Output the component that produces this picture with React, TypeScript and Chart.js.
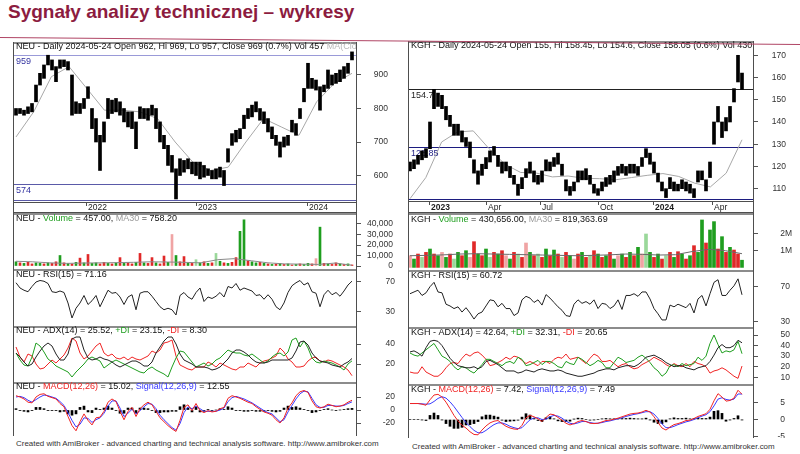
import React, { useEffect, useRef } from "react";
import { Chart, registerables } from "chart.js";

Chart.register(...registerables);

/* ============================ NEU (left block) ============================ */
// one slot per ~4 px of the original, from mid-2021 to 2024-05-24
const neuLow = [
  780, 785, 780, 785, 790, 820, 870, 890, 930, 915,
  880, 920, 925, 915, 780, 785, 785, 800, 830, 740,
  700, 615, 700, 770, 785, 790, 780, 760, 745, 740,
  680, 770, 770, 765, 780, 740, 700, 680, 630, 610,
  530, 600, 610, 620, 605, 600, 590, 595, 600, 590,
  590, 595, 570, 640, 690, 700, 710, 740, 770, 775,
  790, 765, 755, 730, 710, 690, 655, 685, 690, 730,
  720, 770, 820, 860, 860, 855, 795, 850, 860, 870,
  875, 880, 890, 905, 945,
];
const neuHigh = [
  800, 800, 795, 805, 815, 870, 905, 930, 959, 945,
  925, 945, 945, 940, 900, 820, 815, 830, 865, 800,
  770, 720, 760, 830, 825, 830, 820, 800, 790, 790,
  760, 805, 800, 800, 810, 800, 760, 720, 690, 660,
  620, 650, 645, 650, 640, 640, 640, 630, 620, 615,
  620, 625, 615, 680, 725, 735, 740, 780, 800, 810,
  820, 800, 790, 770, 745, 720, 700, 715, 720, 765,
  755, 800, 860, 935, 890, 885, 865, 870, 915, 900,
  905, 915, 925, 935, 969,
];
const neuMA = [715, 790, 895, 925, 860, 795, 795, 790, 770, 700, 640, 615, 625, 700, 770, 745, 720, 820, 875, 905];
const neuLevels = [959, 574, 526];
const neuPriceTicks = [600, 700, 800, 900];
const neuDatePos = [17.5, 45, 72.75];
const neuDateLabels = ["2022", "2023", "2024"];

const neuVolume = [
  4000, 3000, 2500, 3500, 2000, 3000, 2500, 2000, 3000, 2500,
  4000, 10000, 3000, 2500, 2000, 3500, 7500, 3000, 11000, 2500,
  3000, 2000, 3500, 2500, 2000, 3000, 8000, 2500, 3000, 2000,
  3500, 12000, 3000, 2500, 8000, 3000, 2000, 9500, 3500, 30000,
  10000, 4000, 9000, 3000, 2500, 6000, 3000, 4000, 2500, 3000,
  12000, 4500, 3000, 2500, 3500, 8000, 33000, 44000, 5000, 4000,
  3000, 3500, 2500, 2000, 1500, 2000, 2500, 1500, 2000, 1000,
  1500, 2000, 1500, 2500, 2000, 7000, 37000, 2500, 2000, 1500,
  3000, 2000, 1500, 2000, 1000,
];
const neuVolColors = "grgrrggrgr" + "rgrgrgrgrg" + "grrgrgrgrr" + "grgrrgrrgR" + "grrgrGgrgr" + "Ggrgrrggrg" + "grgrgrgrgr" + "grggrRgrgr" + "rgrgr";
const neuVolMA = [4500, 4000, 3000, 2500, 2800, 3000, 3200, 3500, 4000, 3800, 3500, 3000, 6000, 7000, 5000, 3000, 2000, 1800, 1500, 2800, 758];
const neuVolTicks = [0, 10000, 20000, 30000, 40000];

const neuRSI = [
  69, 62, 59, 57, 64, 70, 72, 71, 68, 57,
  56, 58, 56, 42, 22, 35, 42, 52, 40, 45,
  52, 37, 48, 59, 55, 56, 50, 40, 50, 53,
  33, 55, 57, 57, 51, 44, 37, 33, 35, 33,
  26, 52, 56, 50, 47, 56, 62, 44, 50, 48,
  51, 56, 50, 64, 62, 68, 59, 62, 60, 58,
  52, 53, 47, 53, 47, 37, 33, 42, 56, 65,
  69, 72, 66, 69, 57, 55, 37, 53, 59, 53,
  56, 51, 58, 66, 71.16,
];
const neuRsiTicks = [30, 70];

const neuADX = [
  31, 27, 22, 18, 20, 27, 33, 38, 41, 38,
  30, 24, 24, 30, 45, 47, 47, 34, 26, 24,
  25, 27, 25, 24, 22, 19, 17, 19, 21, 23,
  23, 21, 18, 18, 22, 31, 37, 43, 47, 47,
  40, 30, 24, 22, 20, 17, 17, 17, 16, 14,
  15, 17, 21, 25, 31, 34, 34, 32, 29, 25,
  22, 21, 21, 22, 24, 24, 24, 24, 24, 26,
  33, 42, 43, 39, 31, 26, 23, 22, 21, 19,
  18, 17, 20, 22, 25.52,
];
const neuPlusDI = [
  31, 24, 19, 18, 27, 41, 38, 32, 25, 22,
  18, 16, 14, 12, 7, 12, 16, 20, 25, 27,
  25, 23, 16, 19, 22, 24, 22, 20, 18, 16,
  14, 12, 11, 15, 17, 14, 12, 10, 7, 17,
  26, 33, 32, 27, 22, 17, 19, 21, 18, 20,
  24, 26, 30, 34, 32, 31, 31, 29, 28, 30,
  27, 24, 21, 23, 27, 30, 31, 28, 32, 44,
  46, 37, 43, 36, 26, 22, 21, 23, 22, 21,
  19, 17, 14, 20, 23.15,
];
const neuMinusDI = [
  37, 27, 22, 30, 28, 20, 15, 16, 20, 24,
  21, 25, 29, 36, 46, 43, 31, 25, 28, 33,
  38, 41, 31, 28, 30, 26, 25, 27, 24, 27,
  25, 24, 26, 28, 33, 31, 34, 41, 42, 44,
  28, 19, 17, 15, 14, 17, 17, 17, 22, 20,
  17, 21, 19, 17, 15, 14, 17, 17, 21, 19,
  17, 21, 23, 24, 26, 28, 36, 32, 25, 22,
  17, 17, 18, 23, 26, 27, 23, 22, 24, 23,
  21, 19, 17, 14, 8.3,
];
const neuAdxTicks = [20, 40];

const neuMACD = [
  22, 20, 17, 12, 11, 20, 24, 25, 21, 19,
  17, 10, 5, -10, -24, -32, -18, -6, -16, -23,
  -12, -11, -2, 12, 17, 13, -2, -15, -2, 4,
  -10, 2, 8, 12, 8, -2, -12, -18, -24, -29,
  -33, -16, 4, 8, -1, 10, -1, -4, -1, -3,
  -2, 2, 4, 18, 22, 20, 18, 15, 12, 10,
  5, 1, -3, -5, -8, -15, -20, -12, 3, 11,
  22, 28, 30, 27, 14, 5, 3, 5, 9, 7,
  5, 6, 8, 12, 15.02,
];
const neuSignal = [
  20, 21, 19, 15, 12, 16, 20, 23, 22, 20,
  18, 13, 7, -4, -16, -26, -22, -12, -13, -19,
  -15, -12, -5, 6, 14, 14, 3, -10, -5, 1,
  -6, -1, 5, 10, 9, 2, -8, -15, -21, -27,
  -31, -21, -4, 5, 2, 6, 2, -2, -2, -2,
  -2, 0, 3, 13, 19, 21, 19, 17, 14, 11,
  7, 3, -1, -4, -6, -12, -18, -15, -3, 7,
  17, 25, 29, 28, 18, 8, 4, 4, 7, 7,
  6, 6, 7, 10, 12.55,
];
const neuHist = [
  2, -1, -2, -3, -1, 4, 4, 2, -1, -1,
  -1, -3, -2, -6, -8, -6, 4, 6, -3, -4,
  3, 1, 3, 6, 3, -1, -5, -5, 3, 3,
  -4, 3, 3, 2, -1, -4, -4, -3, -3, -2,
  -2, 5, 8, 3, -3, 4, -3, -2, 1, -1,
  0, 2, 1, 5, 3, -1, -1, -2, -2, -1,
  -2, -2, -2, -1, -2, -3, -2, 3, 6, 4,
  5, 3, 1, -1, -4, -3, -1, 1, 2, 0,
  -1, 0, 1, 2, 2.5,
];
const neuMacdTicks = [-20, 0, 20];

/* ============================ KGH (right block) ============================ */
const kghLow = [
  118, 119, 121, 123, 124, 128, 146, 147, 146, 141,
  138, 134, 134, 131, 129, 124, 117, 112, 116, 119,
  122, 125, 120, 117, 118, 115, 112, 107, 110, 115,
  117, 113, 112, 113, 118, 118, 120, 121, 116, 109,
  107, 109, 113, 114, 114, 112, 108, 107, 109, 111,
  112, 113, 116, 117, 116, 117, 117, 116, 120, 124,
  121, 117, 113, 109, 106, 110, 109, 109, 110, 109,
  108, 106, 113, 114, 109, 115, 130, 140, 133, 136,
  140, 149, 158, 154.6,
];
const kghHigh = [
  122, 123, 125, 127, 128, 140, 154.7, 153, 152, 147,
  143, 139, 139, 136, 133, 131, 123, 118, 121, 124,
  127, 129, 125, 122, 122, 120, 116, 112, 115, 119,
  122, 118, 116, 118, 123, 122, 124, 126, 121, 114,
  111, 113, 118, 118, 119, 116, 112, 110, 113, 115,
  116, 118, 120, 121, 120, 121, 121, 120, 124, 128,
  126, 122, 117, 113, 110, 115, 113, 112, 114, 113,
  112, 110, 118, 118, 114, 122, 140, 147, 140, 142,
  147, 155, 170, 162,
];
const kghMA = [105.5, 115, 131, 135.5, 136, 128, 121, 117.3, 117, 115.3, 115.7, 114.7, 114.5, 114, 115, 116, 116.8, 115.5, 112.5, 110.8, 117, 132];
const kghLevels = [154.7, 128.85, 105.2];
const kghPriceTicks = [110, 120, 130, 140, 150, 160, 170];
const kghDatePos = [4.75, 19, 32.5, 47, 60.75, 75.5];
const kghDateLabels = ["2023", "Apr", "Jul", "Oct", "2024", "Apr"];

const kghVolumeM = [
  0.7, 0.5, 0.8, 0.6, 0.9, 1.1, 0.8, 0.7, 0.9, 0.6,
  0.8, 0.5, 0.9, 0.7, 1.0, 0.6, 1.54, 0.8, 0.7, 1.1,
  0.6, 0.9, 0.8, 1.0, 0.7, 0.5, 0.9, 0.8, 0.6, 1.46,
  0.9, 0.7, 0.8, 0.6, 1.1, 0.7, 1.04, 0.8, 0.6, 0.9,
  0.7, 0.5, 0.8, 0.9, 0.6, 0.7, 1.0, 0.8, 0.6, 0.7,
  0.9, 0.5, 0.7, 0.8, 0.6, 0.9, 0.7, 1.2, 0.8, 2.0,
  0.9, 0.6, 0.8, 0.5, 0.7, 0.9, 0.6, 0.94, 0.8, 0.5,
  0.7, 1.3, 0.9, 2.84, 1.46, 2.24, 2.74, 1.1, 1.84, 0.9,
  1.2, 1.04, 0.8, 0.43,
];
const kghVolColors = "RgrGrgrgRg" + "rGgrgRrgrg" + "GrgrRgrGrR" + "grGrgrgrGr" + "gRrgrGrgrg" + "rgRgrgrgRG" + "grgrGrgrgr" + "grggrggrgr" + "grrg";
const kghVolMA = [0.7, 0.72, 0.75, 0.8, 0.82, 0.8, 0.78, 0.76, 0.74, 0.72, 0.7, 0.72, 0.75, 0.8, 0.78, 0.74, 0.76, 0.95, 1.08, 1.0, 0.82];
const kghVolTicks = [1, 2];

const kghRSI = [
  62, 64, 66, 60, 63, 70, 75, 64, 63, 50,
  48, 45, 47, 41, 46, 40, 33, 39, 41, 48,
  55, 54, 47, 51, 45, 45, 37, 40, 55, 59,
  57, 52, 55, 49, 61, 57, 52, 47, 43, 37,
  36, 50, 55, 51, 53, 50, 55, 45, 51, 50,
  45, 48, 55, 44, 60, 60, 62, 59, 64, 64,
  56, 45, 39, 32, 32, 49, 47, 50, 48, 46,
  51, 40, 56, 60, 48, 62, 75, 78, 60, 60,
  66, 71, 79, 60.72,
];
const kghRsiTicks = [30, 70];

const kghADX = [
  34, 35, 33, 30, 38, 44, 45, 44, 40, 34,
  28, 24, 21, 20, 19, 19, 20, 18, 20, 25,
  26, 24, 22, 19, 16, 16, 16, 14, 15, 17,
  16, 15, 17, 18, 17, 16, 16, 17, 16, 14,
  13, 12, 11, 11, 12, 13, 14, 16, 17, 18,
  18, 17, 19, 20, 21, 21, 20, 22, 25, 29,
  30, 31, 29, 27, 24, 22, 20, 21, 21, 19,
  18, 17, 19, 20, 21, 25, 31, 38, 41, 38,
  38, 40, 45, 42.64,
];
const kghPlusDI = [
  33, 31, 30, 33, 36, 39, 42, 36, 30, 28,
  25, 20, 17, 20, 19, 16, 14, 18, 22, 27,
  27, 25, 23, 21, 24, 25, 23, 29, 27, 21,
  22, 24, 26, 22, 25, 25, 23, 20, 19, 25,
  23, 22, 29, 27, 24, 21, 23, 26, 24, 19,
  19, 24, 29, 27, 24, 25, 26, 29, 31, 28,
  24, 19, 16, 11, 14, 21, 22, 20, 23, 21,
  22, 23, 29, 26, 30, 42, 50, 41, 33, 35,
  34, 36, 44, 32.31,
];
const kghMinusDI = [
  15, 14, 14, 20, 15, 13, 11, 11, 14, 19,
  23, 24, 23, 28, 32, 30, 33, 34, 31, 27,
  21, 22, 24, 26, 29, 27, 30, 29, 26, 23,
  25, 23, 21, 25, 25, 23, 27, 29, 28, 32,
  27, 28, 29, 26, 23, 28, 32, 30, 25, 25,
  26, 23, 20, 22, 23, 20, 18, 19, 22, 24,
  26, 29, 27, 25, 22, 20, 23, 21, 20, 23,
  20, 25, 23, 22, 20, 14, 16, 17, 19, 17,
  14, 11, 9, 20.65,
];
const kghAdxTicks = [10, 20, 30, 40, 50];

const kghMACD = [
  4.7, 4.7, 4.7, 4.5, 4.2, 5.8, 7.2, 7.4, 6.6, 5.1,
  3.2, 1.2, -0.4, -1.7, -2.5, -3.6, -4.4, -4.5, -3.1, -1.9,
  -1.0, -0.5, -0.3, -1.2, -2.0, -2.5, -2.8, -2.9, -1.7, 0.5,
  1.2, 0.8, 0.2, -0.6, 0.6, 1.6, 1.4, 0.6, -0.2, -1.1,
  -1.6, -1.2, -0.6, -0.3, -0.6, -1.1, -1.2, -1.1, -0.7, -0.3,
  -0.2, 0.1, 0.4, 0.8, 1.2, 1.6, 1.8, 1.9, 2.2, 2.7,
  2.2, 0.8, -0.9, -2.5, -3.1, -2.2, -1.5, -1.2, -0.8, -0.3,
  -0.2, 0.3, 0.9, 1.3, 1.7, 3.0, 5.5, 7.6, 6.6, 5.4,
  5.6, 6.3, 8.6, 7.42,
];
const kghSignal = [
  4.7, 4.7, 4.7, 4.6, 4.5, 4.6, 5.3, 6.2, 6.7, 6.3,
  5.2, 3.8, 2.2, 0.6, -0.9, -2.1, -3.2, -3.9, -3.9, -3.2,
  -2.3, -1.5, -1.0, -1.0, -1.4, -2.0, -2.4, -2.7, -2.4, -1.2,
  -0.1, 0.5, 0.5, 0.0, 0.1, 0.8, 1.2, 1.0, 0.4, -0.5,
  -1.1, -1.3, -1.0, -0.6, -0.6, -0.9, -1.1, -1.1, -0.9, -0.6,
  -0.4, -0.1, 0.2, 0.5, 0.9, 1.2, 1.5, 1.7, 2.0, 2.3,
  2.3, 1.6, 0.3, -1.3, -2.4, -2.4, -2.0, -1.5, -1.1, -0.7,
  -0.4, 0.0, 0.5, 1.0, 1.4, 2.3, 4.0, 6.0, 6.4, 5.9,
  5.7, 6.0, 7.5, 7.49,
];
const kghHist = [
  0, 0, 0, -0.1, -0.3, 1.2, 1.9, 1.2, -0.1, -1.2,
  -2.0, -2.6, -2.6, -2.3, -1.6, -1.5, -1.2, -0.6, 0.8, 1.3,
  1.3, 1.0, 0.7, -0.2, -0.6, -0.5, -0.4, -0.2, 0.7, 1.7,
  1.3, 0.3, -0.3, -0.6, 0.5, 0.8, 0.2, -0.4, -0.6, -0.6,
  -0.5, 0.1, 0.4, 0.3, 0.0, -0.2, -0.1, 0.0, 0.2, 0.3,
  0.2, 0.2, 0.2, 0.3, 0.3, 0.4, 0.3, 0.2, 0.2, 0.4,
  -0.1, -0.8, -1.2, -1.2, -0.7, 0.2, 0.5, 0.3, 0.3, 0.4,
  0.2, 0.3, 0.4, 0.3, 0.3, 0.7, 2.4, 2.6, 1.8, -0.5,
  -0.1, 0.3, 1.1, -0.1,
];
const kghMacdTicks = [-5, 0, 5];

/* ============================ rendering ============================ */
const FONT = '"Liberation Sans", Arial, sans-serif';
const INK = "#111111";
const C_GREEN = "#1f9e1f";
const C_RED = "#f02424";
const C_BLUE = "#3a3aff";
const C_GRAY = "#a8a8a8";
const VOL_COLORS: Record<string, string> = { r: "#e02828", g: "#1f9e1f", R: "#f0a4a4", G: "#9ad89a" };

type Seg = [string, string];
interface Level { value: number; color: string; labelColor: string }
interface PaneSpec {
  left: number; top: number; width: number; height: number;
  axisW: number; padBottom: number;
  xMin: number; xMax: number; yMin: number; yMax: number;
  yTicks: number[]; fmt: (v: number) => string;
  datasets: () => any[];
  header: Seg[]; headerDy: number;
  levels?: Level[];
  dates?: { pos: number[]; labels: string[] };
}

function rangeXY(lo: number[], hi: number[]) {
  return lo.map((l, i) => ({ x: i, y: [l, hi[i]] }));
}
function spreadXY(values: number[], n: number) {
  const step = values.length > 1 ? (n - 1) / (values.length - 1) : 0;
  return values.map((v, i) => ({ x: i * step, y: v }));
}
function lineDs(data: any[], color: string) {
  return { type: "line", data, borderColor: color, borderWidth: 1, pointRadius: 0, fill: false, tension: 0 };
}
function barDs(data: any[], colors: string | string[], thick: number) {
  return { type: "bar", data, backgroundColor: colors, borderWidth: 0, barThickness: thick, grouped: false };
}

function decoPlugin(s: PaneSpec) {
  return {
    id: "deco",
    beforeDatasetsDraw(chart: any) {
      if (!s.levels) return;
      const { ctx, chartArea: a } = chart;
      const y = chart.scales.y;
      ctx.save();
      ctx.beginPath();
      ctx.rect(a.left, a.top, a.right - a.left, a.bottom - a.top);
      ctx.clip();
      ctx.font = `9px ${FONT}`;
      ctx.textBaseline = "top";
      ctx.textAlign = "left";
      for (const lv of s.levels) {
        const py = Math.round(y.getPixelForValue(lv.value)) + 0.5;
        ctx.strokeStyle = lv.color;
        ctx.lineWidth = 1;
        ctx.beginPath();
        ctx.moveTo(a.left, py);
        ctx.lineTo(a.right, py);
        ctx.stroke();
        ctx.fillStyle = lv.labelColor;
        ctx.fillText(String(lv.value), a.left + 3, py + 1.5);
      }
      ctx.restore();
    },
    afterDraw(chart: any) {
      const { ctx, chartArea: a, height } = chart;
      ctx.save();
      ctx.fillStyle = "#8c8c8c";
      ctx.fillRect(a.left, a.top, a.right - a.left, 2);
      ctx.fillStyle = "#4e4e4e";
      ctx.fillRect(a.left, a.top, 1, height - a.top);
      ctx.fillRect(a.right - 1, a.top, 1, height - a.top);
      if (s.dates) {
        const xs = chart.scales.x;
        ctx.fillRect(a.left, a.bottom, a.right - a.left, 1);
        ctx.fillRect(a.left, height - 1, a.right - a.left, 1);
        ctx.textBaseline = "middle";
        ctx.textAlign = "left";
        s.dates.pos.forEach((p, i) => {
          const px = Math.round(xs.getPixelForValue(p));
          ctx.fillStyle = "#4e4e4e";
          ctx.fillRect(px, a.bottom, 1, 4);
          const lab = s.dates!.labels[i];
          const bold = /^\d{4}$/.test(lab) && s.dates!.labels.some((l) => !/^\d{4}$/.test(l));
          ctx.font = `${bold ? "bold " : ""}8.5px ${FONT}`;
          ctx.fillStyle = "#1a1a1a";
          ctx.fillText(lab, px + 2, (a.bottom + height) / 2 + 0.5);
        });
      }
      // header
      ctx.beginPath();
      ctx.rect(a.left + 1, a.top, a.right - a.left - 2, a.bottom - a.top);
      ctx.clip();
      ctx.font = `9px ${FONT}`;
      ctx.textBaseline = "middle";
      ctx.textAlign = "left";
      let x = a.left + 3;
      for (const [t, c] of s.header) {
        ctx.fillStyle = c;
        ctx.fillText(t, x, a.top + s.headerDy);
        x += ctx.measureText(t).width;
      }
      ctx.restore();
    },
  };
}

function makeConfig(s: PaneSpec) {
  return {
    type: "bar",
    data: { datasets: s.datasets() },
    options: {
      animation: false,
      responsive: false,
      maintainAspectRatio: false,
      events: [],
      layout: { padding: { left: 0, right: 0, top: 0, bottom: s.padBottom } },
      plugins: { legend: { display: false }, tooltip: { enabled: false }, title: { display: false } },
      scales: {
        x: { type: "linear", min: s.xMin, max: s.xMax, display: false, offset: false },
        y: {
          position: "right",
          min: s.yMin,
          max: s.yMax,
          afterBuildTicks: (sc: any) => {
            sc.ticks = s.yTicks.map((v) => ({ value: v }));
          },
          afterFit: (sc: any) => {
            sc.width = s.axisW;
            sc.paddingTop = 0;
            sc.paddingBottom = 0;
          },
          grid: { drawOnChartArea: false, drawTicks: true, tickLength: 4, color: "#555", tickColor: "#555" },
          border: { display: false },
          ticks: {
            autoSkip: false,
            crossAlign: "far",
            padding: 2,
            color: "#333",
            font: { family: FONT, size: 8.5 },
            callback: (v: any) => s.fmt(Number(v)),
          },
        },
      },
    },
    plugins: [decoPlugin(s)],
  };
}

function Pane({ spec }: { spec: PaneSpec }) {
  const ref = useRef<HTMLCanvasElement | null>(null);
  useEffect(() => {
    if (!ref.current) return;
    const chart = new Chart(ref.current, makeConfig(spec) as any);
    return () => chart.destroy();
  }, [spec]);
  return (
    <canvas
      ref={ref}
      width={spec.width}
      height={spec.height}
      style={{ position: "absolute", left: spec.left, top: spec.top, width: spec.width, height: spec.height }}
    />
  );
}

const plain = (v: number) => String(v);

function buildSpecs(): PaneSpec[] {
  const NL = neuLow.length;
  const NK = kghLow.length;
  const lx = { xMin: -0.75, xMax: 85.25 };
  const rx = { xMin: -0.5, xMax: 86 };
  const L0 = 13, LP = 357;
  const R0 = 408, RP = 754;
  const lp = (top: number, height: number, labelRight: number) => ({ left: L0, top, height, width: labelRight - L0, axisW: labelRight - LP });
  const rp = (top: number, height: number, labelRight: number) => ({ left: R0, top, height, width: labelRight - R0, axisW: labelRight - RP });

  return [
    // ---------------- NEU ----------------
    {
      ...lp(42, 171, 388), ...lx, padBottom: 11, yMin: 520.9, yMax: 998.5, yTicks: neuPriceTicks, fmt: plain,
      datasets: () => [barDs(rangeXY(neuLow, neuHigh), "#000", 3), lineDs(spreadXY(neuMA, NL), C_GRAY)],
      header: [["NEU - Daily 2024-05-24 Open 962, Hi 969, Lo 957, Close 969 (0.7%) Vol 457 ", INK], ["MA(Close", "#b8b8b8"]],
      headerDy: 5,
      levels: [
        { value: neuLevels[0], color: "#9a9ad8", labelColor: "#3333a0" },
        { value: neuLevels[1], color: "#5a5aa8", labelColor: "#3333a0" },
        { value: neuLevels[2], color: "#5a5aa8", labelColor: "#3333a0" },
      ],
      dates: { pos: neuDatePos, labels: neuDateLabels },
    },
    {
      ...lp(213, 56, 393), ...lx, padBottom: 0, yMin: -2857, yMax: 50476, yTicks: neuVolTicks,
      fmt: (v) => v.toLocaleString("en-US"),
      datasets: () => [
        lineDs(spreadXY(neuVolMA, NL), "#8a8a8a"),
        barDs(spreadXY(neuVolume, NL), neuVolColors.split("").map((c) => VOL_COLORS[c]), 2),
      ],
      header: [["NEU - ", INK], ["Volume", C_GREEN], [" = 457.00, ", INK], ["MA30", "#999"], [" = 758.20", INK]],
      headerDy: 6,
    },
    {
      ...lp(269, 57, 395), ...lx, padBottom: 0, yMin: 11.33, yMax: 87.33, yTicks: neuRsiTicks, fmt: plain,
      datasets: () => [lineDs(spreadXY(neuRSI, NL), "#222")],
      header: [["NEU - RSI(15) = 71.16", INK]],
      headerDy: 6,
    },
    {
      ...lp(326, 56, 395), ...lx, padBottom: 0, yMin: 2, yMax: 58, yTicks: neuAdxTicks, fmt: plain,
      datasets: () => [
        lineDs(spreadXY(neuADX, NL), "#222"),
        lineDs(spreadXY(neuPlusDI, NL), C_GREEN),
        lineDs(spreadXY(neuMinusDI, NL), C_RED),
      ],
      header: [["NEU - ADX(14) = 25.52, ", INK], ["+DI", C_GREEN], [" = 23.15, ", INK], ["-DI", C_RED], [" = 8.30", INK]],
      headerDy: 5,
    },
    {
      ...lp(382, 54, 395), ...lx, padBottom: 0, yMin: -40, yMax: 43.08, yTicks: neuMacdTicks, fmt: plain,
      datasets: () => [
        lineDs(spreadXY(neuMACD, NL), C_RED),
        lineDs(spreadXY(neuSignal, NL), C_BLUE),
        barDs(spreadXY(neuHist, NL), "#000", 2),
      ],
      header: [["NEU - ", INK], ["MACD(12,26)", C_RED], [" = 15.02, ", INK], ["Signal(12,26,9)", C_BLUE], [" = 12.55", INK]],
      headerDy: 5,
    },
    // ---------------- KGH ----------------
    {
      ...rp(41, 172, 786), ...rx, padBottom: 12, yMin: 104.46, yMax: 176.43, yTicks: kghPriceTicks, fmt: plain,
      datasets: () => [barDs(rangeXY(kghLow, kghHigh), "#000", 3), lineDs(spreadXY(kghMA, NK), C_GRAY)],
      header: [["KGH - Daily 2024-05-24 Open 155, Hi 158.45, Lo 154.6, Close 158.05 (0.6%) Vol 430,656", INK]],
      headerDy: 5,
      levels: [
        { value: kghLevels[0], color: "#222222", labelColor: "#222222" },
        { value: kghLevels[1], color: "#1c1c80", labelColor: "#1c1c80" },
        { value: kghLevels[2], color: "#1c1c80", labelColor: "#1c1c80" },
      ],
      dates: { pos: kghDatePos, labels: kghDateLabels },
    },
    {
      ...rp(213, 57, 792), ...rx, padBottom: 0, yMin: -0.156, yMax: 3.257, yTicks: kghVolTicks,
      fmt: (v) => `${v}M`,
      datasets: () => [
        lineDs(spreadXY(kghVolMA, NK), "#6a6a6a"),
        barDs(spreadXY(kghVolumeM, NK), kghVolColors.split("").map((c) => VOL_COLORS[c]), 3),
      ],
      header: [["KGH - ", INK], ["Volume", C_GREEN], [" = 430,656.00, ", INK], ["MA30", "#999"], [" = 819,363.69", INK]],
      headerDy: 7,
    },
    {
      ...rp(270, 57, 790), ...rx, padBottom: 0, yMin: 23.94, yMax: 89.1, yTicks: kghRsiTicks, fmt: plain,
      datasets: () => [lineDs(spreadXY(kghRSI, NK), "#222")],
      header: [["KGH - RSI(15) = 60.72", INK]],
      headerDy: 6,
    },
    {
      ...rp(327, 57, 790), ...rx, padBottom: 0, yMin: 3.67, yMax: 57.57, yTicks: kghAdxTicks, fmt: plain,
      datasets: () => [
        lineDs(spreadXY(kghADX, NK), "#222"),
        lineDs(spreadXY(kghPlusDI, NK), C_GREEN),
        lineDs(spreadXY(kghMinusDI, NK), C_RED),
      ],
      header: [["KGH - ADX(14) = 42.64, ", INK], ["+DI", C_GREEN], [" = 32.31, ", INK], ["-DI", C_RED], [" = 20.65", INK]],
      headerDy: 6,
    },
    {
      ...rp(384, 54, 785), ...rx, padBottom: 0, yMin: -5.44, yMax: 10.44, yTicks: kghMacdTicks, fmt: plain,
      datasets: () => [
        lineDs(spreadXY(kghMACD, NK), C_RED),
        lineDs(spreadXY(kghSignal, NK), C_BLUE),
        barDs(spreadXY(kghHist, NK), "#000", 2),
      ],
      header: [["KGH - ", INK], ["MACD(12,26)", C_RED], [" = 7.42, ", INK], ["Signal(12,26,9)", C_BLUE], [" = 7.49", INK]],
      headerDy: 6,
    },
  ];
}

const SPECS = buildSpecs();
const FOOTER = "Created with AmiBroker - advanced charting and technical analysis software. http://www.amibroker.com";

export default function App() {
  return (
    <div style={{ position: "absolute", left: 0, top: 0, width: 800, height: 454, background: "#fff", overflow: "hidden" }}>
      <div
        style={{
          position: "absolute", left: 8, top: 1, fontFamily: FONT, fontWeight: "bold", fontSize: 19,
          lineHeight: "21px", color: "#8c1c3f", whiteSpace: "nowrap",
        }}
      >
        Sygnały analizy technicznej – wykresy
      </div>
      {SPECS.map((s, i) => (
        <Pane key={i} spec={s} />
      ))}
      <div
        style={{
          position: "absolute", left: 0, top: 36.5, width: 801, height: 1.3, background: "#b04565",
          transform: "rotate(0.5deg)", transformOrigin: "0 0", zIndex: 5,
        }}
      />
      <div style={{ position: "absolute", left: 16, top: 438.5, fontFamily: FONT, fontSize: 7.95, lineHeight: "9px", color: "#333", whiteSpace: "nowrap" }}>
        {FOOTER}
      </div>
      <div style={{ position: "absolute", left: 412, top: 441.5, fontFamily: FONT, fontSize: 7.95, lineHeight: "9px", color: "#333", whiteSpace: "nowrap" }}>
        {FOOTER}
      </div>
    </div>
  );
}
